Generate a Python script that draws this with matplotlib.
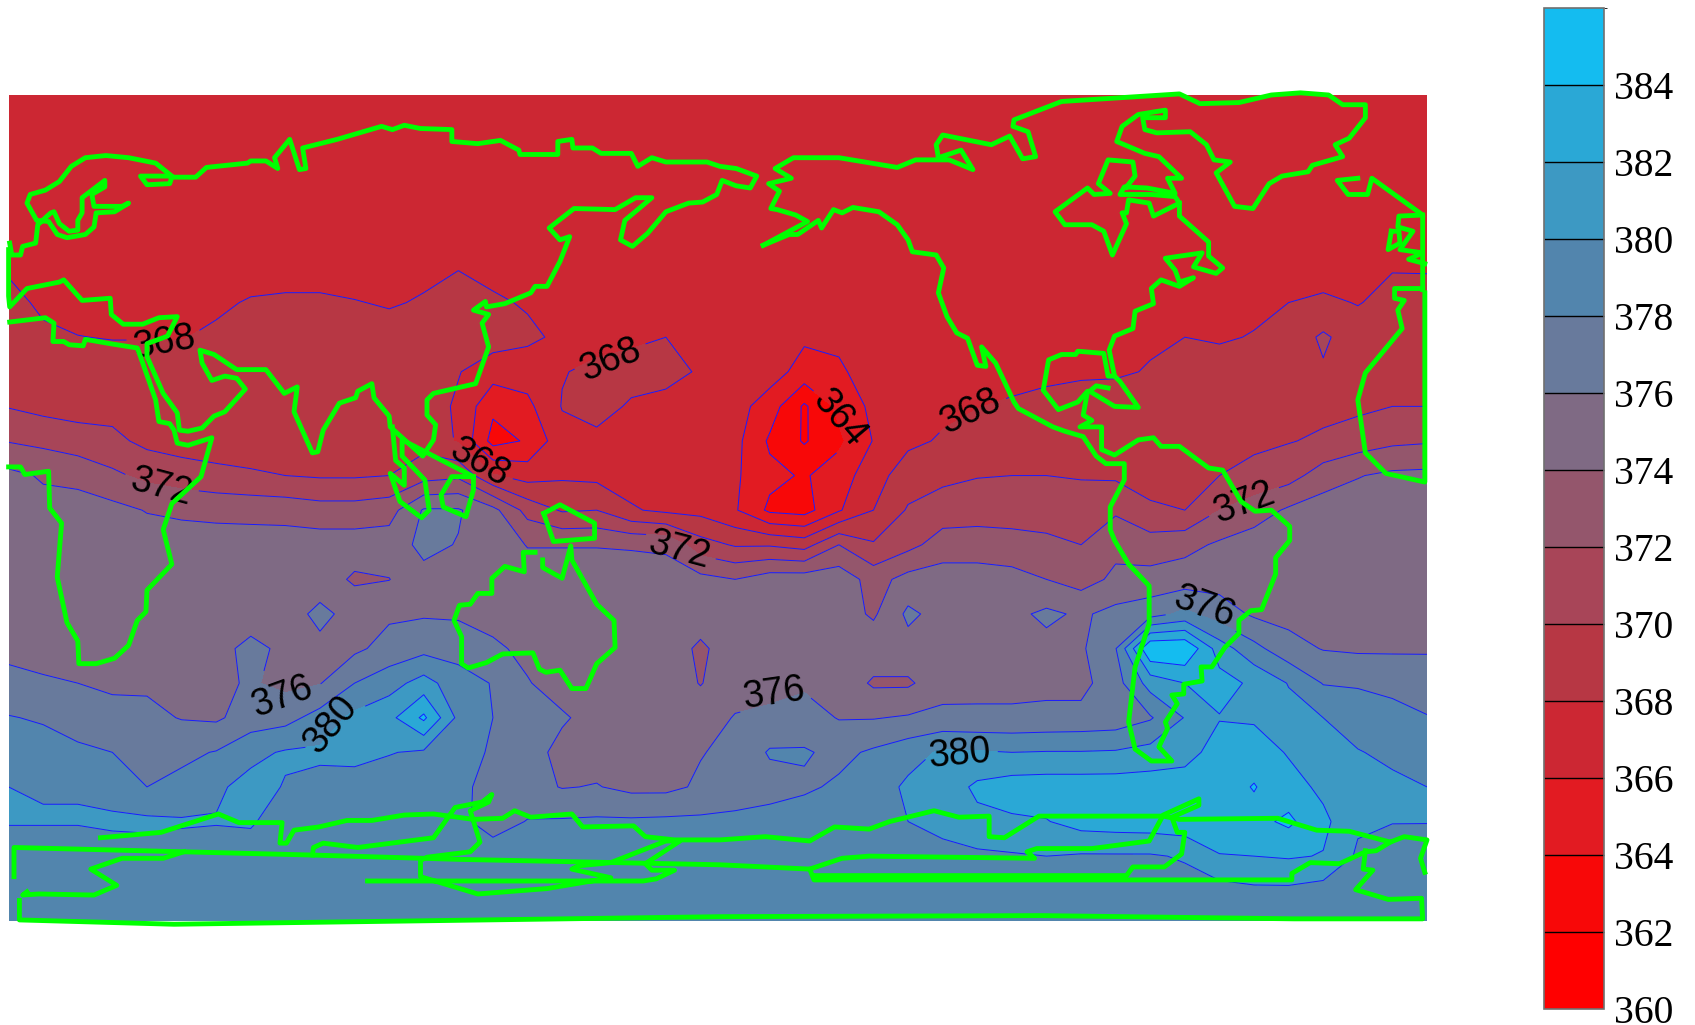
"""Mapa de contornos rellenos con costas verdes y barra de color."""
import matplotlib

matplotlib.use("Agg")

import matplotlib.pyplot as plt  # noqa: E402
import numpy as np  # noqa: E402
from matplotlib.colors import BoundaryNorm, ListedColormap  # noqa: E402

# Rejilla del campo, en unidades de mapa digitalizadas
x_grid = [8, 40, 72, 104, 136, 168, 200, 232, 264, 296, 328, 360, 392, 424, 456, 488, 520, 552, 584, 616, 648,
          680, 712, 744, 776, 808, 840, 872, 904, 936, 968, 1000, 1032, 1064, 1096, 1128, 1160, 1192, 1224, 1256, 1288, 1320]
y_grid = [88, 120, 152, 184, 216, 248, 280, 312, 344, 376, 408, 440, 472, 504, 536, 568, 600, 632, 664, 696, 728, 760, 792, 824, 852]

row_088 = [367.0] * 42
row_120 = [367.0] * 42
row_152 = [367.0] * 42
row_184 = [367.0] * 42
row_216 = [367.0] * 42
row_248 = [367.8, 367.2] + [367.0] * 10 + [367.5, 367.95, 367.4] + [367.0] * 24 + [367.2, 367.9, 367.9]
row_280 = [368.5, 367.7, 367.2, 367.1, 367.1, 367.2, 367.6, 368.2, 368.4, 368.4, 368.1, 367.8, 368.2, 368.6, 368.3, 367.8, 367.2] + [367.1] * 18 + [367.3, 367.6, 368.0, 368.4, 367.9, 368.6, 368.5]
row_312 = [369, 368.3, 368.05, 367.9, 367.9, 367.9, 368.4, 369, 369, 369, 369, 368.9, 369, 369, 368.9, 368.4, 367.6, 367.4, 367.7, 368, 367.7, 367.2, 367.0, 366.3, 366.4, 367.1, 367.2, 367.3, 367.4, 367.4, 367.5, 367.6, 367.7, 367.8, 368.0, 367.8, 368.1, 368.9, 370.3, 369, 369, 369]
row_344 = [369.2, 369, 369.1, 369.1, 369.1, 369.1, 369.1, 369.1, 369.1, 369.1, 369.1, 369.1, 368.8, 368.1, 366.9, 366.9, 367.9, 368.4, 368.6, 368.6, 367.8, 367.1, 366.9, 365.2, 365.7, 366.9, 367.3, 367.3, 367.4, 367.5, 367.7, 367.8, 367.8, 368.1, 368.6, 368.8, 369, 369.5, 369.8, 369.5, 369.3, 369.2]
row_376 = [369.9, 369.4, 369.3, 369.3, 369.3, 369.3, 369.3, 369.4, 369.4, 369.4, 369.4, 369.3, 369, 367.7, 364.4, 365.5, 368.1, 368.6, 367.8, 367.4, 367.2, 366.8, 365, 361.7, 364.5, 366.5, 367.2, 367.6, 367.95, 368.2, 368.4, 368.6, 368.8, 369, 369.2, 369.3, 369.4, 369.5, 369.5, 369.6, 370, 370]
row_408 = [371.9, 371.5, 370.8, 370.5, 369.5, 369.1, 368.9, 368.8, 368.7, 368.7, 368.7, 368.9, 369.3, 367.8, 363.3, 364.2, 367.3, 367.6, 367.3, 367.3, 367, 366.6, 363.7, 361.8, 363.6, 366.1, 367.6, 368.2, 368.6, 368.8, 369, 369.2, 369.3, 369.4, 369.4, 369.5, 369.6, 369.9, 370.3, 371, 371.6, 371.8]
row_440 = [374.5, 373.8, 373.6, 372.4, 371.5, 371, 370.6, 370.3, 370, 369.8, 369.8, 370, 371.2, 371.6, 368.2, 367.2, 367.7, 367.5, 367.2, 367, 366.9, 366.3, 364.5, 363.8, 365, 367.2, 369, 369.5, 369.9, 370, 370, 369.8, 369.7, 369, 369.3, 370, 370.6, 371.2, 373, 373.9, 374.4, 374.5]
row_472 = [375, 374.6, 374.6, 374.6, 373.9, 373.6, 373.4, 373.3, 373.2, 372.8, 372.8, 373.2, 376.2, 376.2, 374.6, 371.3, 369.8, 370, 368.2, 367.6, 367.4, 366.2, 363.6, 363.2, 365.8, 368, 370.2, 371, 371.2, 371.3, 371.4, 371.4, 371.7, 370.4, 370, 372, 373, 374.3, 375, 375, 375, 375]
row_504 = [375.0] * 12 + [376.5, 375.9, 375.2, 373.9, 373.9, 373.9, 373.8, 373.6, 370.8, 369.8, 369.8, 369.2, 372, 370.2, 371.4, 372.9, 372.9, 372.6, 372.3, 372, 373.5, 372.9, 373.4, 374.3, 375, 375.1, 375.1, 375.2, 375.2, 375.2]
row_536 = [375.0] * 10 + [373.7, 373.95, 375.4, 375.3, 375, 375, 375, 375, 375, 375, 374.6, 374, 375, 375.1, 375.2, 373.2, 374.7, 375, 375, 374.8, 374, 373.2, 374.4, 374.7, 375, 375.2, 375.3, 375.3, 375.3, 375.3, 375.3, 375.3]
row_568 = [375.1] * 9 + [376.5, 375.3, 375.7, 375.8, 375.7, 375.4, 375.3, 375.2, 375.2, 375.2, 375.2, 375.1, 375.1, 375.2, 375.2, 375, 373.7, 376.4, 375.3, 375.3, 375.5, 376.4, 375.7, 376.6, 377.2, 378.5, 377, 375.7, 375.4, 375.2, 375.2, 375.2, 375.2]
row_600 = [375.4, 375.4, 375.3, 375.3, 375.3, 375.3, 375.4, 376.5, 375.6, 375.5, 375.6, 376.7, 377.4, 377.3, 376.3, 375.6, 375.3, 375.2, 375.2, 375.2, 373.6, 375.2, 375.2, 375.2, 375.2, 375.3, 375.3, 375.3, 375.3, 375.3, 375.4, 375.7, 377.9, 385.9, 385.9, 381, 378.6, 376.7, 375.9, 375.7, 375.7, 375.8]
row_632 = [376.7, 376.2, 376, 375.6, 375.7, 375.6, 375.6, 376.2, 375.5, 375.9, 378, 379.2, 380.8, 378.8, 377.9, 376.1, 375.3, 375.2, 375.2, 375.2, 373.9, 375.3, 375.2, 375.7, 375.4, 373.7, 373.7, 375.2, 375.4, 375.4, 375.5, 375.4, 377.2, 380.8, 382, 382.8, 381.6, 379.9, 377.9, 377.8, 377.6, 377]
row_664 = [378.1, 377.8, 377.3, 376.8, 376.5, 375.9, 375.7, 376.9, 377.3, 378.8, 380.5, 381.4, 384.4, 379.5, 378, 377.1, 376.2, 375.4, 375.2, 375.2, 375.2, 376.1, 376.5, 376.8, 375.9, 375.9, 376.2, 376.5, 376.4, 376.4, 376.5, 376.6, 376.8, 377.8, 380.1, 381.9, 381.7, 380.7, 380, 379.1, 378.5, 378.1]
row_696 = [379, 378.8, 378.3, 378, 377.3, 377.6, 378.1, 379.5, 380.2, 380.3, 380.5, 380.1, 379.7, 379, 377.7, 376.7, 375.5, 375.2, 375.1, 375.1, 375.9, 376.5, 378.2, 378.2, 377.5, 378.3, 379.2, 380.3, 380.2, 380, 380.1, 380.1, 380.2, 380.7, 381.2, 382.9, 383.2, 381.8, 381, 380.1, 379.6, 379.1]
row_728 = [380, 379.9, 379.9, 379.3, 378, 378.5, 379.7, 380.6, 379.9, 379.5, 379.3, 379, 378.9, 378.7, 377, 376.7, 375.9, 376.1, 375.5, 375.5, 376.3, 376.9, 377.2, 377.7, 378.3, 378.9, 380.4, 380.8, 382.4, 383, 383.1, 383.1, 383.1, 383.1, 383.1, 383.2, 384.1, 382.9, 381.5, 380.8, 380.4, 380]
row_760 = [380.1, 380.1, 380.1, 380.3, 380.4, 380.2, 380.1, 380.2, 379.1, 379, 379, 378.9, 378.8, 378.6, 377, 378.1, 378.2, 378.3, 378.3, 378.4, 378.4, 378.5, 378.8, 379, 379, 379.6, 380, 380.6, 381.5, 381.7, 381.9, 382.8, 383, 383.1, 383.3, 383.3, 383.4, 384.4, 382.5, 380.3, 380.05, 380.05]
row_792 = [379.2] * 26 + [379.2, 379.4, 379.6, 379.8, 380, 379.8, 379.8, 379.8, 380.2, 381.9, 382, 382.2, 381.9, 379.7, 379.3, 379.2]
row_824 = [379.2] * 36 + [379.6, 379.6] + [379.2] * 4
row_852 = [379.0] * 42

levels = [360, 362, 364, 366, 368, 370, 372, 374, 376, 378, 380, 382, 384, 386]
band_colors = ["#ff0000", "#f80808", "#e21b22", "#cc2733", "#b73744", "#a84558", "#94566c",
               "#7f6a84", "#687a9c", "#5285ad", "#3d99c3", "#2aa8d6", "#14bcf0"]

# Etiquetas de contorno
label_values = [368, 368, 364, 368, 368, 372, 372, 372, 376, 380, 376, 380, 376]
label_x = [152, 565, 776, 898, 444, 149, 628, 1151, 261, 306, 716, 888, 1114]
label_y = [317, 333, 387, 381, 428, 451, 509, 465, 645, 670, 642, 698, 562]
label_rot = [10, 22, -50, 25, -30, -15, -15, 20, 20, 50, 8, 5, -20]

# Costas digitalizadas
eurasia = [(9, 225), (11, 236), (19, 236), (21, 228), (33, 225), (35, 208), (47, 197), (50, 196), (55, 207), (64, 214), (72, 213), (72, 204), (76, 197), (76, 183), (97, 167), (97, 173), (85, 180), (87, 191), (113, 191), (119, 188), (106, 196), (89, 197), (87, 210), (79, 217), (62, 220), (53, 217), (45, 205), (34, 204), (25, 188), (28, 180), (42, 176), (55, 168), (66, 154), (79, 146), (98, 144), (119, 146), (144, 151), (159, 163), (130, 163), (136, 171), (157, 170), (159, 164), (181, 164), (191, 155), (229, 151), (232, 149), (246, 149), (257, 156), (254, 146), (268, 129), (277, 157), (283, 156), (280, 137), (312, 129), (336, 122), (353, 117), (363, 120), (374, 116), (389, 119), (418, 120), (418, 131), (442, 133), (463, 130), (480, 139), (481, 143), (516, 143), (516, 131), (529, 129), (530, 137), (548, 137), (556, 142), (584, 142), (590, 154), (603, 146), (616, 150), (654, 150), (666, 154), (681, 156), (700, 163), (694, 174), (681, 172), (668, 167), (663, 180), (650, 187), (637, 188), (616, 196), (599, 216), (585, 228), (574, 222), (578, 204), (603, 183), (588, 183), (569, 194), (531, 193), (508, 211), (518, 222), (527, 219), (518, 242), (506, 265), (495, 265), (491, 271), (467, 281), (450, 284), (449, 279), (438, 287), (452, 291), (446, 299), (452, 321), (440, 355), (401, 364), (395, 370), (395, 384), (403, 393), (401, 407), (391, 422), (361, 395), (360, 385), (346, 368), (344, 355), (331, 362), (329, 368), (314, 373), (299, 398), (294, 418), (289, 419), (272, 381), (275, 358), (263, 364), (246, 342), (219, 342), (198, 328), (185, 324), (187, 336), (196, 352), (208, 348), (219, 350), (227, 360), (208, 381), (198, 385), (187, 396), (174, 399), (166, 398), (164, 382), (151, 364), (136, 330), (136, 318), (155, 311), (164, 293), (147, 294), (132, 300), (114, 300), (103, 291), (102, 276), (76, 278), (59, 259), (55, 261), (25, 267), (9, 284), (8, 274), (8, 231)]
africa = [(9, 298), (42, 294), (50, 299), (49, 316), (59, 316), (64, 319), (77, 320), (79, 314), (102, 318), (127, 322), (130, 330), (144, 370), (147, 390), (157, 392), (161, 398), (164, 410), (174, 412), (196, 405), (186, 441), (159, 466), (151, 490), (159, 522), (136, 546), (135, 566), (127, 574), (119, 597), (106, 609), (89, 614), (73, 614), (72, 593), (62, 576), (53, 534), (57, 484), (46, 470), (45, 436), (23, 439), (19, 432), (8, 432)]
malaya = [(363, 395), (366, 426), (374, 433), (374, 449), (361, 438), (370, 464), (390, 479), (397, 472), (393, 444), (372, 422), (372, 407), (438, 441), (438, 453), (431, 478), (410, 469), (408, 458), (418, 441), (438, 441)]
guinea = [(503, 475), (518, 467), (550, 484), (550, 498), (512, 501), (503, 475)]
australia = [(495, 511), (484, 511), (485, 529), (467, 524), (455, 535), (455, 549), (442, 549), (435, 559), (425, 560), (420, 574), (427, 589), (427, 614), (433, 618), (450, 613), (465, 605), (493, 604), (499, 619), (505, 622), (518, 620), (529, 637), (542, 637), (552, 614), (569, 599), (568, 574), (552, 559), (529, 518), (528, 505), (520, 535), (502, 525), (502, 518)]
north_arctic = [(706, 227), (747, 205), (736, 199), (719, 194), (713, 193), (721, 177), (711, 170), (732, 165), (717, 156), (734, 146), (776, 146), (830, 155), (847, 148), (878, 148), (900, 157), (889, 139), (868, 146), (866, 134), (872, 125), (917, 134), (934, 126), (946, 147), (958, 145), (951, 122), (937, 117), (938, 111), (982, 94), (1091, 87), (1110, 96), (1146, 95), (1176, 88), (1203, 86), (1229, 88), (1242, 97), (1263, 97), (1263, 109), (1248, 128), (1235, 134), (1242, 145), (1214, 153), (1210, 159), (1186, 163), (1174, 170), (1159, 193), (1142, 191), (1125, 160), (1138, 150), (1123, 148), (1116, 134), (1101, 122), (1070, 123), (1059, 120), (1057, 109), (1078, 109), (1078, 102), (1053, 106), (1038, 117), (1033, 131), (1059, 142), (1072, 145), (1093, 165), (1080, 165), (1087, 179), (1061, 174), (1040, 173), (1036, 180), (1065, 180), (1087, 182), (1091, 188), (1067, 200), (1063, 188), (1044, 185), (1042, 197), (1038, 197), (1042, 207), (1029, 236), (1021, 214), (1010, 208), (985, 208), (976, 196), (1006, 174), (1012, 180), (1027, 179), (1016, 170), (1025, 148), (1048, 150), (1050, 163), (1042, 173)]
americas = [(1091, 188), (1091, 200), (1118, 224), (1118, 237), (1131, 248), (1125, 253), (1104, 247), (1112, 234), (1078, 239), (1087, 250), (1091, 261), (1104, 257), (1091, 265), (1074, 259), (1065, 267), (1067, 281), (1050, 288), (1048, 304), (1031, 311), (1026, 324), (1031, 348), (1025, 348), (1021, 327), (997, 325), (995, 328), (982, 328), (970, 333), (965, 361), (979, 379), (997, 372), (1006, 362), (1002, 384), (1010, 389), (999, 395), (1019, 395), (1019, 416), (1031, 421), (1053, 407), (1067, 405), (1074, 413), (1091, 413), (1118, 433), (1131, 435), (1148, 464), (1161, 473), (1176, 472), (1193, 487), (1193, 500), (1180, 516), (1180, 531), (1167, 564), (1157, 565), (1146, 574), (1146, 586), (1133, 599), (1121, 617), (1111, 617), (1112, 630), (1095, 633), (1095, 642), (1084, 643), (1089, 651), (1078, 668), (1080, 674), (1072, 691), (1084, 704), (1065, 704), (1050, 693), (1044, 668), (1050, 617), (1063, 577), (1063, 542), (1044, 522), (1031, 500), (1027, 490), (1027, 469), (1040, 444), (1040, 429), (1023, 429), (1014, 422), (1002, 404), (985, 399), (974, 395), (942, 378), (938, 372), (921, 336), (908, 321), (912, 339), (904, 338), (895, 313), (885, 308), (876, 293), (868, 271), (873, 248), (866, 236), (844, 233), (840, 222), (830, 208), (813, 196), (789, 192), (779, 197), (771, 194), (760, 211), (757, 204), (738, 217), (730, 217), (706, 227)]
florida = [(1025, 359), (1014, 357), (1008, 362), (1031, 376), (1053, 377), (1036, 353), (1031, 348)]
iceland = [(1256, 165), (1237, 167), (1247, 180), (1265, 180), (1269, 165), (1316, 199), (1316, 268)]
britain = [(1316, 199), (1294, 200), (1293, 210), (1307, 214), (1295, 231), (1316, 234), (1303, 240), (1318, 244)]
ireland = [(1287, 214), (1284, 231), (1295, 225), (1294, 214), (1287, 214)]
iberia = [(1316, 267), (1290, 267), (1290, 276), (1299, 278), (1293, 287), (1297, 304), (1278, 327), (1263, 345), (1256, 370), (1263, 419), (1282, 438), (1318, 446), (1318, 271)]
antarctic_top = [(93, 775), (149, 770), (202, 753), (221, 761), (261, 761), (259, 780), (265, 780), (272, 768), (295, 765), (321, 759), (344, 759), (374, 754), (401, 753), (438, 758), (465, 757), (476, 750), (491, 756), (529, 753), (539, 765), (586, 764), (597, 774), (624, 777), (666, 777), (708, 774), (749, 778), (772, 765), (804, 767), (823, 760), (864, 750), (887, 756), (915, 755), (915, 774), (929, 775), (961, 755), (1076, 755), (1091, 758), (1182, 757), (1218, 768), (1248, 769), (1286, 779), (1299, 774), (1320, 777), (1314, 794), (1318, 807)]
antarctic_mid = [(1286, 779), (1273, 787), (1263, 788), (1239, 799), (1212, 798), (1195, 808), (1195, 814), (753, 814), (749, 804), (779, 794), (804, 792), (957, 794), (950, 788), (959, 785), (1010, 785), (1063, 778), (1076, 754), (1109, 739), (1109, 745), (1084, 756), (1089, 770), (1096, 770), (1093, 790), (1077, 802), (1048, 802), (1042, 810), (755, 810)]
antarctic_long = [(13, 811), (13, 784), (170, 788), (289, 791), (425, 795), (666, 800), (749, 804)]
antarctic_ross = [(289, 791), (290, 784), (299, 780), (331, 784), (401, 775), (421, 747), (446, 742), (455, 735), (452, 742), (435, 750), (444, 779), (435, 788), (395, 793), (389, 796), (389, 811), (442, 827), (506, 822), (565, 812), (529, 804), (535, 801), (565, 798), (616, 778), (629, 778), (597, 799), (603, 805), (624, 805), (607, 813), (595, 815), (340, 815)]
antarctic_left = [(170, 788), (151, 794), (113, 794), (84, 804), (108, 819), (87, 828), (36, 827), (21, 828), (25, 825)]
antarctic_bottom = [(18, 833), (18, 851), (161, 855), (666, 848), (963, 847), (1197, 850), (1316, 850), (1315, 831), (1284, 832), (1254, 823), (1270, 805), (1261, 804), (1263, 787)]

coasts = [eurasia, africa, malaya, guinea, australia, north_arctic, americas, florida, iceland, britain,
          ireland, iberia, antarctic_top, antarctic_mid, antarctic_long, antarctic_ross, antarctic_left, antarctic_bottom]

field = np.array([row_088, row_120, row_152, row_184, row_216, row_248, row_280, row_312, row_344, row_376, row_408,
                  row_440, row_472, row_504, row_536, row_568, row_600, row_632, row_664, row_696, row_728, row_760,
                  row_792, row_824, row_852], dtype=float)

W, H = 1695, 1025
fig = plt.figure(figsize=(W / 100, H / 100), dpi=100, facecolor="white")

ax = fig.add_axes([8.6 / W, 1 - 921 / H, (1427 - 8.6) / W, (921 - 95) / H])
cmap = ListedColormap(band_colors)
norm = BoundaryNorm(levels, cmap.N)
filled = ax.contourf(x_grid, y_grid, field, levels=levels, cmap=cmap, norm=norm)
lines = ax.contour(x_grid, y_grid, field, levels=levels, colors="#1a1aff", linewidths=0.7)
ax.set_xlim(8, 1320)
ax.set_ylim(852, 88)
ax.axis("off")

# clabel corta la línea; luego se coloca cada texto en su sitio
labels = ax.clabel(lines, inline=True, inline_spacing=2, fontsize=27, fmt="%d",
                   manual=list(zip(label_x, label_y)), colors="black")
for txt, val, lx, ly, rot in zip(labels, label_values, label_x, label_y, label_rot):
    txt.set_text(str(val))
    txt.set_position((lx, ly))
    txt.set_rotation(rot)
    txt.set_family("Liberation Sans")
    txt.set_zorder(5)

for coast in coasts:
    xs = [p[0] for p in coast]
    ys = [p[1] for p in coast]
    ax.plot(xs, ys, color="#00ff00", lw=3.5, solid_joinstyle="round", clip_on=False, zorder=6)

cax = fig.add_axes([1544 / W, 1 - 1009 / H, 60 / W, (1009 - 8) / H])
cbar = fig.colorbar(filled, cax=cax, drawedges=True, ticks=levels[:-1])
cbar.dividers.set_color("black")
cbar.dividers.set_linewidth(1.0)
cbar.outline.set_edgecolor("#707070")
cbar.outline.set_linewidth(1.2)
cax.tick_params(length=0, pad=7, labelsize=28.5)
for t in cax.get_yticklabels():
    t.set_family("Liberation Serif")

fig.savefig("out.png", dpi=100)
plt.close(fig)
